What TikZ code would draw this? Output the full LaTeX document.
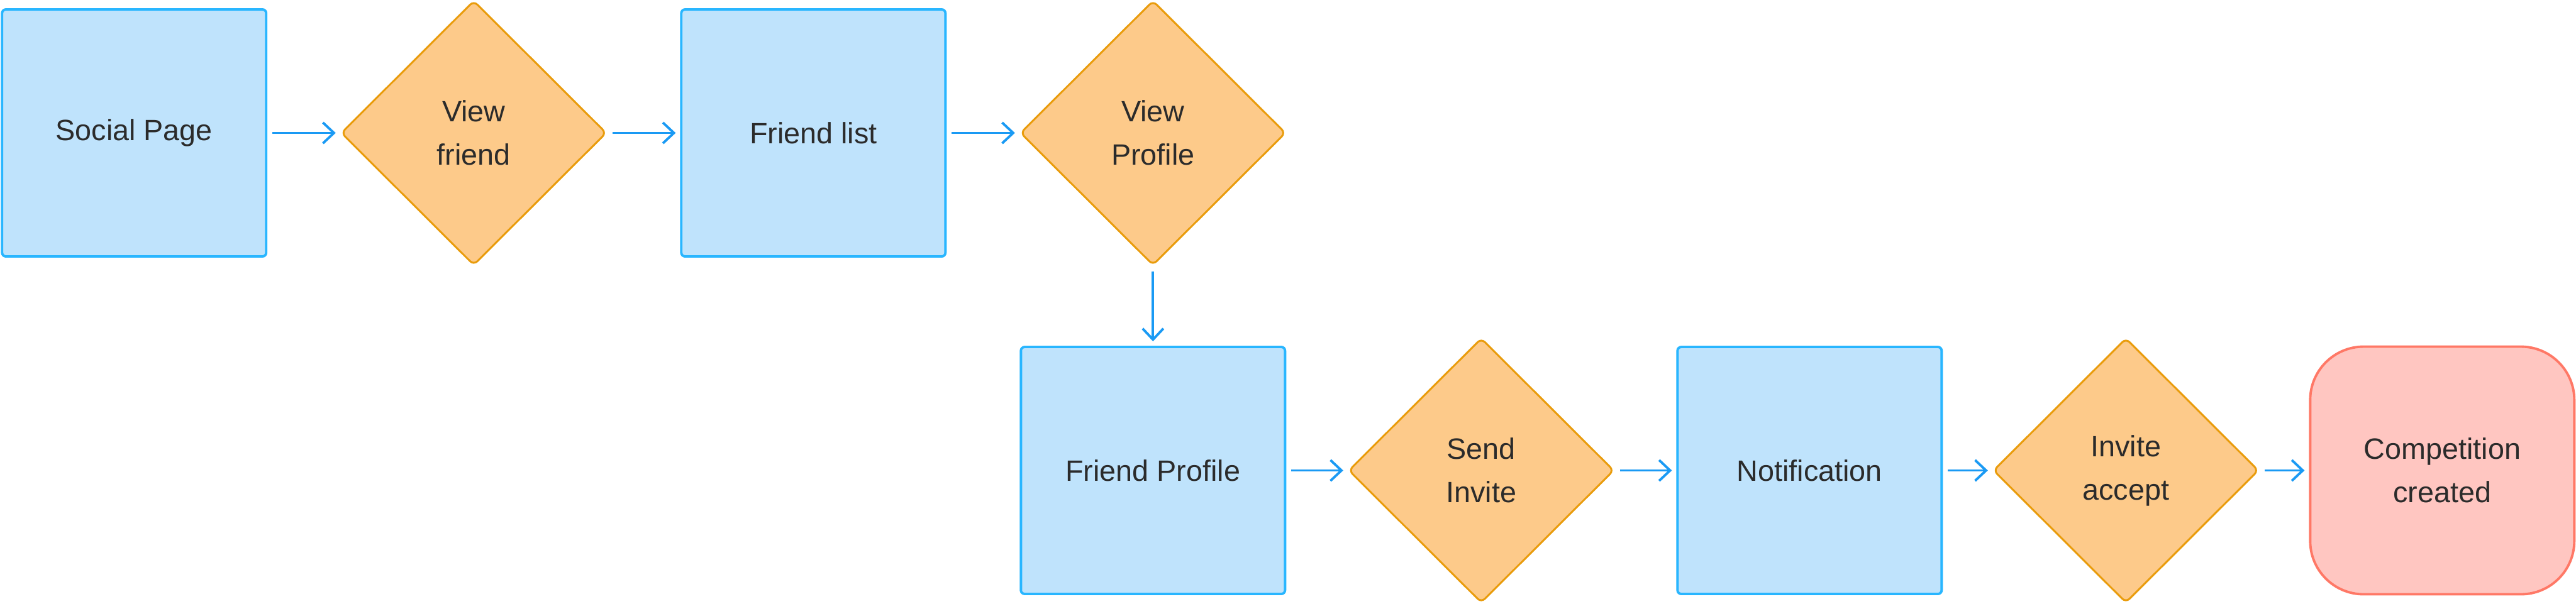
\documentclass[tikz,border=0pt]{standalone}
\usepackage{fontspec}
\setmainfont{Liberation Sans}
\usetikzlibrary{arrows.meta, positioning, shapes.geometric}
\definecolor{boxfill}{HTML}{BFE3FC}
\definecolor{boxline}{HTML}{29B6FF}
\definecolor{askfill}{HTML}{FDCA8A}
\definecolor{askline}{HTML}{E99C0C}
\definecolor{endfill}{HTML}{FFC6C1}
\definecolor{endline}{HTML}{FF7866}
\definecolor{flowline}{HTML}{1A9AF4}
\definecolor{ink}{HTML}{2B2B2B}

\begin{document}
\begin{tikzpicture}[
        on grid, >={Straight Barb[length=1.75mm,width=3.3mm]},
        every node/.style={font=\fontsize{13.3}{19.6}\selectfont, text=ink, align=center},
        screen/.style={rectangle, draw=boxline, fill=boxfill, line width=1.1pt, rounded corners=0.6mm,
          minimum width=4.2cm, minimum height=3.93cm},
        choice/.style={diamond, draw=askline, fill=askfill, line width=0.85pt, rounded corners=0.8mm,
          inner sep=0pt, minimum width=4.22cm, minimum height=4.21cm},
        result/.style={rectangle, draw=endline, fill=endfill, line width=1.1pt, rounded corners=8.5mm,
          minimum width=4.2cm, minimum height=3.94cm},
        flow/.style={->, draw=flowline, line width=1.1pt, shorten <=0.08cm, shorten >=0.07cm},
        ]
        \useasboundingbox (0,0) rectangle (40.96,-9.6);

        % top row
        \node[screen]  (social)     at (2.133,-2.115)          {Social Page};
        \node[choice]  (viewfriend) [right=5.4cm of social]     {View\\friend};
        \node[screen]  (friendlist) [right=5.4cm of viewfriend] {Friend list};
        \node[choice]  (viewprof)   [right=5.4cm of friendlist] {View\\Profile};

        % bottom row
        \node[screen]  (friendprof) [below=5.37cm of viewprof]   {Friend Profile};
        \node[choice]  (sendinv)    [right=5.22cm of friendprof] {Send\\Invite};
        \node[screen]  (notif)      [right=5.22cm of sendinv]    {Notification};
        \node[choice]  (accept)     [right=5.03cm of notif]      {Invite\\accept};
        \node[result]  (compet)     [right=5.03cm of accept]     {Competition\\created};

        \draw[flow] (social) -- (viewfriend);
        \draw[flow] (viewfriend) -- (friendlist);
        \draw[flow] (friendlist) -- (viewprof);
        \draw[flow] (viewprof) -- (friendprof);
        \draw[flow] (friendprof) -- (sendinv);
        \draw[flow] (sendinv) -- (notif);
        \draw[flow] (notif) -- (accept);
        \draw[flow] (accept) -- (compet);
      \end{tikzpicture}
\end{document}
